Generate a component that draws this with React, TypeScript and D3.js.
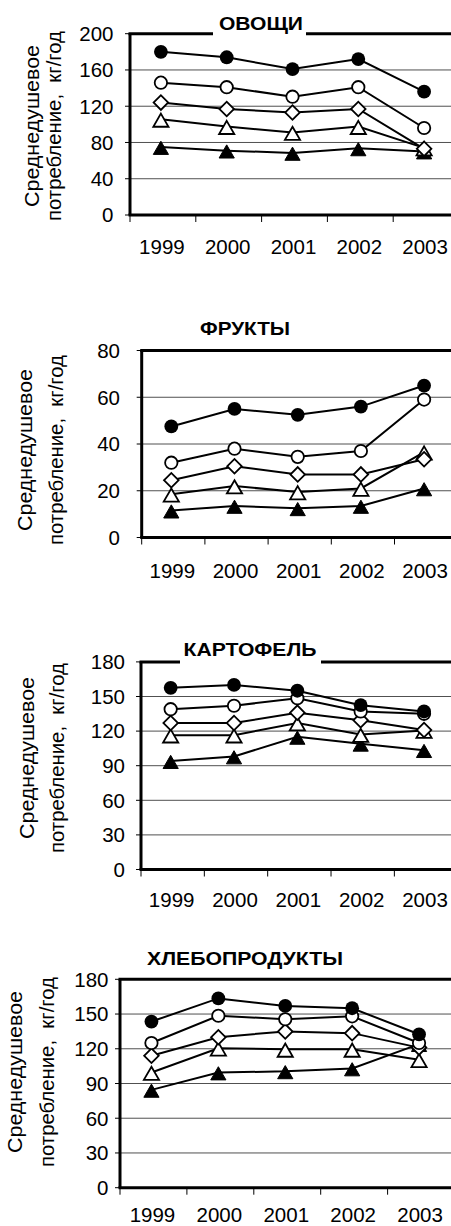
import React from 'react';
import * as d3 from 'd3';

// ---------- DATA ----------
const years = ['1999', '2000', '2001', '2002', '2003'];
const yTitleLine1 = 'Среднедушевое';
const yTitleLine2 = 'потребление,  кг/год';

// ОВОЩИ
const vegTitle = 'ОВОЩИ';
const vegTicks = [0, 40, 80, 120, 160, 200];
const vegFilledCircle = [180, 174, 161, 172, 136];
const vegOpenCircle = [146, 141, 130.5, 141, 96];
const vegDiamond = [124, 117, 113, 117, 73];
const vegOpenTriangle = [105.5, 97.5, 91, 97.5, 74];
const vegFilledTriangle = [75, 71, 68.5, 73.5, 70];

// ФРУКТЫ
const fruitTitle = 'ФРУКТЫ';
const fruitTicks = [0, 20, 40, 60, 80];
const fruitFilledCircle = [47.5, 55, 52.5, 56, 65];
const fruitOpenCircle = [32, 38, 34.5, 37, 59];
const fruitDiamond = [24.5, 30.5, 27, 27, 33.5];
const fruitOpenTriangle = [18.5, 22, 19.5, 21, 36.5];
const fruitFilledTriangle = [11.5, 13.5, 12.5, 13.5, 21];

// КАРТОФЕЛЬ
const potTitle = 'КАРТОФЕЛЬ';
const potTicks = [0, 30, 60, 90, 120, 150, 180];
const potFilledCircle = [157.5, 160, 155, 142.5, 137];
const potOpenCircle = [139, 142, 148.5, 137, 135];
const potDiamond = [127, 127, 136, 129.5, 121];
const potOpenTriangle = [116.5, 116.5, 127, 117, 120.5];
const potFilledTriangle = [94, 98, 115, 109, 103.5];

// ХЛЕБОПРОДУКТЫ
const breadTitle = 'ХЛЕБОПРОДУКТЫ';
const breadTicks = [0, 30, 60, 90, 120, 150, 180];
const breadFilledCircle = [143.5, 163.5, 157, 155, 132.5];
const breadOpenCircle = [125, 148.5, 145.5, 148, 125];
const breadDiamond = [114, 130, 135, 133.5, 121];
const breadOpenTriangle = [99.5, 120.5, 119.5, 119.5, 110.5];
const breadFilledTriangle = [84.5, 99.5, 100.5, 103, 124];

const markerTypes = ['filledCircle', 'openCircle', 'diamond', 'openTriangle', 'filledTriangle'];

// ---------- LAYOUT ----------
type Layout = {
  left: number; right: number; top: number; bottom: number;
  titleX: number; titleY: number; titleW: number; gap: [number, number] | null;
  labelRight: number; xLabelY: number;
  yTitleX1: number; yTitleX2: number; yTitleCY: number;
};

const layouts: Layout[] = [
  { left: 130, right: 459, top: 33.7, bottom: 215, titleX: 261, titleY: 30, titleW: 84, gap: [213, 306],
    labelRight: 113.5, xLabelY: 253.5, yTitleX1: 38.5, yTitleX2: 61, yTitleCY: 126 },
  { left: 141.7, right: 457.7, top: 350.5, bottom: 537.5, titleX: 245, titleY: 335, titleW: 90, gap: null,
    labelRight: 120, xLabelY: 578, yTitleX1: 32, yTitleX2: 62.5, yTitleCY: 450 },
  { left: 141, right: 457.7, top: 661.9, bottom: 869.5, titleX: 250, titleY: 656, titleW: 133, gap: [180, 321],
    labelRight: 125, xLabelY: 906.5, yTitleX1: 33.6, yTitleX2: 64, yTitleCY: 758 },
  { left: 120, right: 454.5, top: 979.3, bottom: 1187.7, titleX: 245, titleY: 965, titleW: 196, gap: null,
    labelRight: 108.5, xLabelY: 1222, yTitleX1: 22, yTitleX2: 54, yTitleCY: 1072 },
];

const panels = [
  { title: vegTitle, ticks: vegTicks, series: [vegFilledCircle, vegOpenCircle, vegDiamond, vegOpenTriangle, vegFilledTriangle] },
  { title: fruitTitle, ticks: fruitTicks, series: [fruitFilledCircle, fruitOpenCircle, fruitDiamond, fruitOpenTriangle, fruitFilledTriangle] },
  { title: potTitle, ticks: potTicks, series: [potFilledCircle, potOpenCircle, potDiamond, potOpenTriangle, potFilledTriangle] },
  { title: breadTitle, ticks: breadTicks, series: [breadFilledCircle, breadOpenCircle, breadDiamond, breadOpenTriangle, breadFilledTriangle] },
];

const FONT = '"Liberation Sans", Arial, sans-serif';

const triPath = d3.symbol(d3.symbolTriangle, 100)()!;
const diaPath = d3.symbol(d3.symbolSquare, 106)()!;

function Marker({ type, x, y }: { type: string; x: number; y: number }) {
  const sw = 1.8;
  if (type === 'filledCircle') return <circle cx={x} cy={y} r={6.9} fill="#000" />;
  if (type === 'openCircle') return <circle cx={x} cy={y} r={6.2} fill="#fff" stroke="#000" strokeWidth={sw} />;
  if (type === 'diamond')
    return <path d={diaPath} transform={`translate(${x},${y}) rotate(45)`} fill="#fff" stroke="#000" strokeWidth={sw} />;
  if (type === 'openTriangle')
    return <path d={triPath} transform={`translate(${x},${y + 3})`} fill="#fff" stroke="#000" strokeWidth={sw} strokeLinejoin="miter" />;
  return <path d={triPath} transform={`translate(${x},${y + 3})`} fill="#000" stroke="#000" strokeWidth={1} />;
}

function Panel({ title, ticks, series, L }: { title: string; ticks: number[]; series: number[][]; L: Layout }) {
  const x = d3.scaleBand<string>().domain(years).range([L.left, L.right]);
  const y = d3.scaleLinear().domain([0, ticks[ticks.length - 1]]).range([L.bottom, L.top]);
  const cx = (i: number) => (x(years[i]) as number) + x.bandwidth() / 2 - 2;
  const line = d3.line<number>().x((_, i) => cx(i)).y((d) => y(d));
  const bounds = [...years.map((yr) => x(yr) as number), L.right];

  return (
    <g>
      {/* gridlines */}
      {ticks.slice(1, -1).map((t) => (
        <line key={'g' + t} x1={L.left} x2={L.right} y1={y(t)} y2={y(t)} stroke="#505050" strokeWidth={1} />
      ))}
      {/* y ticks and labels */}
      {ticks.map((t) => (
        <g key={'t' + t}>
          <line x1={L.left - 5} x2={L.left} y1={y(t)} y2={y(t)} stroke="#000" strokeWidth={1} />
          <text x={L.labelRight} y={y(t)} dy="0.36em" textAnchor="end" fontSize={20.5} fontFamily={FONT}>{t}</text>
        </g>
      ))}
      {/* x ticks */}
      {bounds.map((b, i) => (
        <line key={'x' + i} x1={b} x2={b} y1={L.bottom} y2={L.bottom + 7} stroke="#000" strokeWidth={1} />
      ))}
      {years.map((yr, i) => (
        <text key={'l' + yr} x={cx(i) + 1} y={L.xLabelY} textAnchor="middle" fontSize={20.5} fontFamily={FONT}>{yr}</text>
      ))}
      {/* frame */}
      <line x1={L.left - 1.5} x2={L.right + 5} y1={L.top} y2={L.top} stroke="#000" strokeWidth={3} />
      <line x1={L.left} x2={L.left} y1={L.top} y2={L.bottom} stroke="#000" strokeWidth={3} />
      <line x1={L.left - 1.5} x2={L.right + 5} y1={L.bottom} y2={L.bottom} stroke="#000" strokeWidth={3} />
      {/* series lines */}
      {series.map((s, k) => (
        <path key={'s' + k} d={line(s) as string} fill="none" stroke="#000" strokeWidth={2} />
      ))}
      {/* markers, drawn from last series to first */}
      {series.map((s, k) => ({ s, k })).reverse().map(({ s, k }) =>
        s.map((v, i) => <Marker key={`m${k}-${i}`} type={markerTypes[k]} x={cx(i)} y={y(v)} />)
      )}
      {/* title */}
      {L.gap && <rect x={L.gap[0]} y={L.top - 4} width={L.gap[1] - L.gap[0]} height={8} fill="#fff" />}
      <text x={L.titleX} y={L.titleY} textAnchor="middle" fontSize={19} fontWeight="bold" fontFamily={FONT}
        textLength={L.titleW} lengthAdjust="spacingAndGlyphs">{title}</text>
      {/* y axis title */}
      <text transform={`translate(${L.yTitleX1},${L.yTitleCY}) rotate(-90)`} textAnchor="middle" fontSize={20.5} fontFamily={FONT}
        textLength={162} lengthAdjust="spacingAndGlyphs">{yTitleLine1}</text>
      <text transform={`translate(${L.yTitleX2},${L.yTitleCY}) rotate(-90)`} textAnchor="middle" fontSize={20.5} fontFamily={FONT}
        textLength={190} lengthAdjust="spacingAndGlyphs" style={{ whiteSpace: 'pre' }}>{yTitleLine2}</text>
    </g>
  );
}

export default function App() {
  return (
    <svg width={451} height={1226} style={{ position: 'absolute', left: 0, top: 0, background: '#fff' }}>
      <rect x={0} y={0} width={451} height={1226} fill="#fff" />
      {panels.map((p, i) => (
        <Panel key={p.title} title={p.title} ticks={p.ticks} series={p.series} L={layouts[i]} />
      ))}
    </svg>
  );
}
